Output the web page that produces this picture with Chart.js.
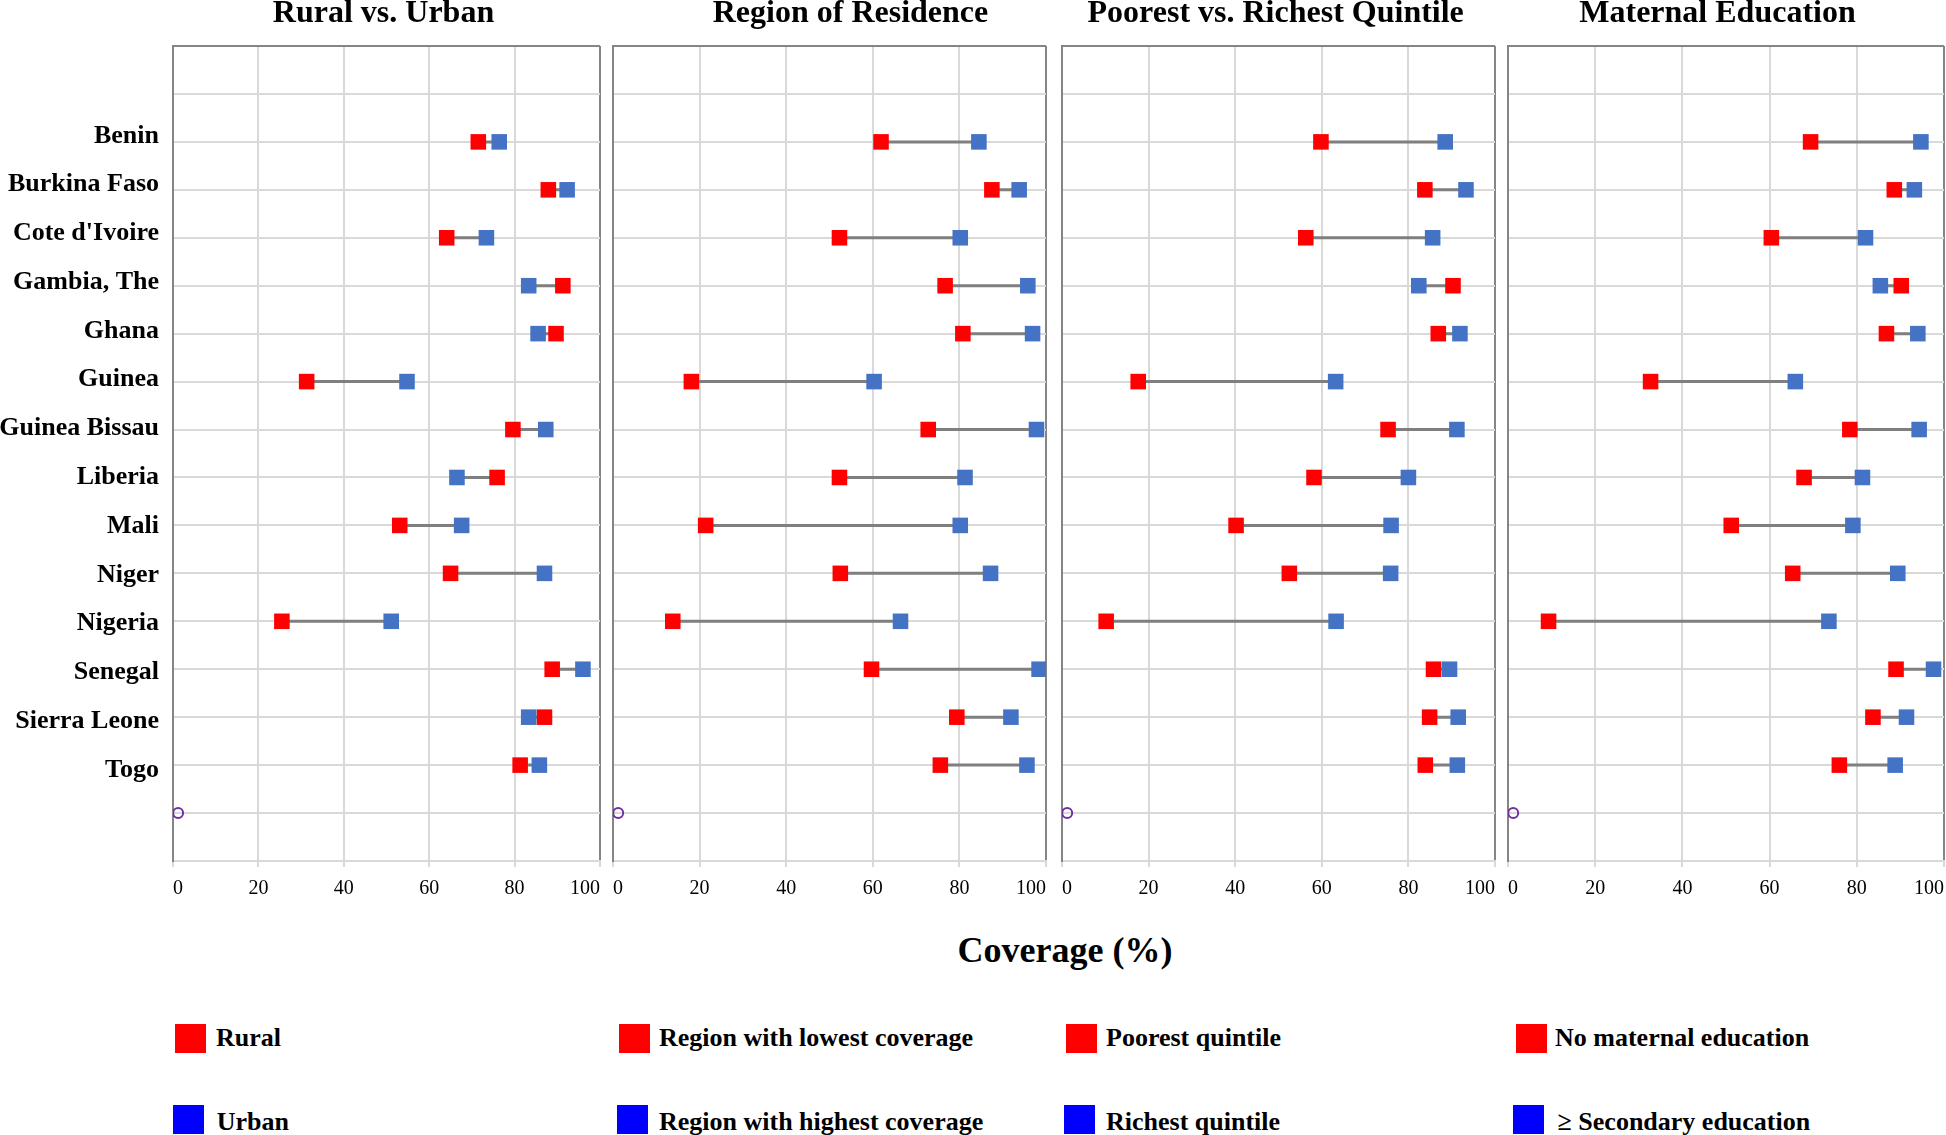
<!DOCTYPE html>
<html>
<head>
<meta charset="utf-8">
<script src="https://cdn.jsdelivr.net/npm/chart.js@4.4.1/dist/chart.umd.min.js"></script>
<style>
  html, body { margin:0; padding:0; background:#fff; }
  body { width:1946px; height:1135px; overflow:hidden; position:relative; font-family:'Liberation Serif','Times New Roman',serif; color:#000; }
  canvas { position:absolute; top:0; }
  .title { position:absolute; top:-5px; width:600px; text-align:center; font-weight:bold; font-size:32px; line-height:32px; white-space:nowrap; }
  .axis-title { position:absolute; top:932px; left:765px; width:600px; text-align:center; font-weight:bold; font-size:36px; line-height:36px; white-space:nowrap; }
  .sq { position:absolute; width:31px; }
  .lg { position:absolute; font-weight:bold; font-size:26px; line-height:26px; white-space:nowrap; }
</style>
</head>
<body>
<script>
// ---------------- data ----------------
const countries = ['Benin', 'Burkina Faso', "Cote d'Ivoire", 'Gambia, The', 'Ghana', 'Guinea', 'Guinea Bissau',
  'Liberia', 'Mali', 'Niger', 'Nigeria', 'Senegal', 'Sierra Leone', 'Togo'];

const panelTitles = ['Rural vs. Urban', 'Region of Residence', 'Poorest vs. Richest Quintile', 'Maternal Education'];

const ruralVals     = [71.5, 87.9, 64.1, 91.3, 89.7, 31.3, 79.6, 75.9, 53.1, 65.0, 25.5, 88.8, 87.0, 81.3];
const urbanVals     = [76.4, 92.3, 73.4, 83.3, 85.5, 54.8, 87.3, 66.5, 67.6, 87.0, 51.1, 96.0, 83.3, 85.8];
const regionLowVals = [61.9, 87.5, 52.3, 76.7, 80.8, 18.1, 72.8, 52.3, 21.4, 52.5, 13.8, 59.7, 79.4, 75.6];
const regionHighVals= [84.5, 93.8, 80.2, 95.8, 96.9, 60.3, 97.8, 81.3, 80.2, 87.2, 66.4, 98.4, 91.9, 95.6];
const poorestVals   = [59.8, 83.8, 56.3, 90.3, 86.9, 17.6, 75.3, 58.2, 40.2, 52.5, 10.2, 85.8, 84.9, 83.9];
const richestVals   = [88.5, 93.3, 85.6, 82.4, 91.9, 63.2, 91.2, 80.0, 76.0, 75.9, 63.3, 89.5, 91.5, 91.3];
const noEduVals     = [69.4, 88.6, 60.4, 90.2, 86.8, 32.7, 78.4, 67.9, 51.2, 65.3,  9.3, 89.0, 83.7, 76.0];
const secEduVals    = [94.7, 93.2, 82.0, 85.4, 94.0, 65.9, 94.3, 81.3, 79.1, 89.4, 73.6, 97.6, 91.4, 88.8];

const lowLabels  = ['Rural', 'Region with lowest coverage', 'Poorest quintile', 'No maternal education'];
const highLabels = ['Urban', 'Region with highest coverage', 'Richest quintile', '\u2265 Secondary education'];

const xTickValues = [0, 20, 40, 60, 80, 100];
const axisTitle = 'Coverage (%)';

const lowSeries  = [ruralVals, regionLowVals, poorestVals, noEduVals];
const highSeries = [urbanVals, regionHighVals, richestVals, secEduVals];

// ---------------- layout / style ----------------
const FONT = "'Liberation Serif', 'Times New Roman', serif";
const RED = '#ff0000', BLUE = '#4472c4', LEG_BLUE = '#0000ff', LINE = '#7f7f7f';
const GRID = '#d9d9d9', FRAME = '#858585', PURPLE = '#7030a0';
const CANVAS_H = 905;
// category-label axis range (labels are spaced slightly wider than the gridlines in the original)
const LABEL_AXIS_MIN = 0.1566, LABEL_AXIS_MAX = 16.8676;

const layoutCfg = [
  { canvasLeft: 0,    width: 602, yW: 173, titleX: 383.5,  low: { sq: 175.3, tx: 216 },   high: { sq: 173.3, tx: 216.7 } },
  { canvasLeft: 603,  width: 445, yW: 10,  titleX: 850.5,  low: { sq: 619.3, tx: 659 },   high: { sq: 617,   tx: 659 } },
  { canvasLeft: 1052, width: 445, yW: 10,  titleX: 1275.7, low: { sq: 1066,  tx: 1106 },  high: { sq: 1064,  tx: 1106 } },
  { canvasLeft: 1498, width: 448, yW: 10,  titleX: 1717.5, low: { sq: 1515.5,tx: 1555 },  high: { sq: 1513,  tx: 1557.6 } }
];

function addDiv(cls, text, style) {
  const d = document.createElement('div');
  d.className = cls;
  if (text !== null) d.textContent = text;
  Object.assign(d.style, style);
  document.body.appendChild(d);
  return d;
}

function makePanel(idx) {
  const L = layoutCfg[idx];
  const low = lowSeries[idx], high = highSeries[idx];
  const withLabels = idx === 0;

  const canvas = document.createElement('canvas');
  canvas.width = L.width; canvas.height = CANVAS_H;
  canvas.style.left = L.canvasLeft + 'px';
  canvas.style.width = L.width + 'px';
  canvas.style.height = CANVAS_H + 'px';
  document.body.appendChild(canvas);

  const rowOf = i => i + 2;
  const lowPts = low.map((v, i) => ({ x: v, y: rowOf(i) }));
  const highPts = high.map((v, i) => ({ x: v, y: rowOf(i) }));
  const segPts = [];
  low.forEach((v, i) => {
    segPts.push({ x: v, y: rowOf(i) }, { x: high[i], y: rowOf(i) }, { x: high[i], y: null });
  });

  const scales = {
    x: {
      type: 'linear', position: 'bottom', min: 0, max: 100,
      afterBuildTicks: s => { s.ticks = xTickValues.map(v => ({ value: v })); },
      ticks: { autoSkip: false, align: 'inner', padding: 10, maxRotation: 0,
               color: '#000', font: { family: FONT, size: 20 } },
      grid: { color: c => (c.tick && (c.tick.value === 100 || c.tick.value === 0)) ? FRAME : GRID,
              lineWidth: 2, drawTicks: true, tickLength: 6, tickColor: GRID },
      border: { color: GRID, width: 2 },
      afterFit: s => { s.height = CANVAS_H - 861; s.paddingLeft = 0; s.paddingRight = 0; }
    },
    y: {
      type: 'linear', position: 'left', weight: 0, min: 0, max: 17, reverse: true,
      ticks: { display: false, stepSize: 1, maxTicksLimit: 30, autoSkip: false },
      grid: { color: c => (c.tick && c.tick.value === 0) ? FRAME : GRID, lineWidth: 2, drawTicks: false },
      border: { color: FRAME, width: 2 },
      afterFit: s => { s.width = withLabels ? 0 : L.yW; s.paddingTop = 0; s.paddingBottom = 0; }
    }
  };
  if (withLabels) {
    scales.yl = {
      type: 'linear', position: 'left', weight: 1, min: LABEL_AXIS_MIN, max: LABEL_AXIS_MAX, reverse: true,
      afterBuildTicks: s => { s.ticks = countries.map((c, i) => ({ value: rowOf(i) })); },
      ticks: { autoSkip: false, padding: 14, color: '#000', font: { family: FONT, size: 26, weight: 'bold' },
               callback: v => countries[v - 2] || '' },
      grid: { display: false, drawTicks: false },
      border: { display: false },
      afterFit: s => { s.width = L.yW; s.paddingTop = 0; s.paddingBottom = 0; }
    };
  }

  new Chart(canvas, {
    type: 'scatter',
    data: {
      datasets: [
        { label: highLabels[idx], data: highPts, pointStyle: 'rect', pointRadius: 11, pointHoverRadius: 11,
          pointBackgroundColor: BLUE, pointBorderColor: BLUE, pointBorderWidth: 0, order: 0 },
        { label: lowLabels[idx], data: lowPts, pointStyle: 'rect', pointRadius: 11, pointHoverRadius: 11,
          pointBackgroundColor: RED, pointBorderColor: RED, pointBorderWidth: 0, order: 1 },
        { type: 'line', label: 'gap', data: segPts, borderColor: LINE, borderWidth: 3, pointRadius: 0,
          spanGaps: false, fill: false, tension: 0, order: 2 },
        { label: 'ref', data: [{ x: 1.2, y: 16 }], pointStyle: 'circle', pointRadius: 5, pointHoverRadius: 5,
          pointBorderColor: PURPLE, pointBorderWidth: 2, pointBackgroundColor: 'rgba(0,0,0,0)', order: 3 }
      ]
    },
    options: {
      responsive: false,
      animation: false,
      devicePixelRatio: 1,
      events: [],
      layout: { autoPadding: false, padding: { top: 46, left: 0, right: 2, bottom: 0 } },
      plugins: { legend: { display: false }, title: { display: false }, tooltip: { enabled: false } },
      scales
    }
  });

  addDiv('title', panelTitles[idx], { left: (L.titleX - 300) + 'px' });

  addDiv('sq', null, { left: L.low.sq + 'px', top: '1024px', height: '29px', background: RED });
  addDiv('lg', lowLabels[idx], { left: L.low.tx + 'px', top: '1024.5px' });
  addDiv('sq', null, { left: L.high.sq + 'px', top: '1104.5px', height: '29.4px', background: LEG_BLUE });
  addDiv('lg', highLabels[idx], { left: L.high.tx + 'px', top: '1109px' });
}

for (let i = 0; i < 4; i++) makePanel(i);
addDiv('axis-title', axisTitle, {});
</script>
</body>
</html>
